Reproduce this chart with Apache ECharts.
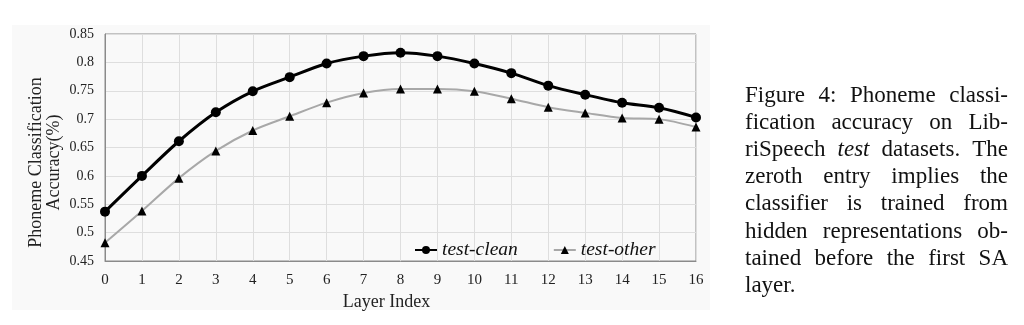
<!DOCTYPE html>
<html>
<head>
<meta charset="utf-8">
<script src="https://cdn.jsdelivr.net/npm/echarts@6/dist/echarts.min.js"></script>
<style>
html,body{margin:0;padding:0;background:#fff;}
#c{width:1024px;height:325px;}
</style>
</head>
<body>
<div id="c"></div>
<script>
var layers = [0,1,2,3,4,5,6,7,8,9,10,11,12,13,14,15,16];
var testClean = [0.537,0.600,0.661,0.712,0.749,0.774,0.798,0.811,0.817,0.811,0.798,0.781,0.759,0.743,0.729,0.720,0.703];
var testOther = [0.482,0.538,0.596,0.644,0.680,0.705,0.729,0.746,0.753,0.753,0.749,0.736,0.721,0.711,0.702,0.700,0.686];
var yTicks = [0.45,0.5,0.55,0.6,0.65,0.7,0.75,0.8,0.85];
var seriesNames = ['test-clean','test-other'];
var captionLines = [
  [['Figure'],['4:'],['Phoneme'],['classi-']],
  [['fication'],['accuracy'],['on'],['Lib-']],
  [['riSpeech'],['test','i'],['datasets.'],['The']],
  [['zeroth'],['entry'],['implies'],['the']],
  [['classifier'],['is'],['trained'],['from']],
  [['hidden'],['representations'],['ob-']],
  [['tained'],['before'],['the'],['first'],['SA']],
  [['layer.']]
];

var serif = '"Liberation Serif","Times New Roman",serif';
var chart = echarts.init(document.getElementById('c'));

function pairs(vals){ return layers.map(function(l,i){ return [l, vals[i]]; }); }

// caption layout (justified lines)
var cv = document.createElement('canvas').getContext('2d');
var capFont = 23, capLeft = 745, capRight = 1008, capTop = 96, capStep = 27.1;
var graphics = [{
  type:'rect', z:-10, silent:true,
  shape:{x:12,y:25,width:698,height:285},
  style:{fill:'#f9f9f9'}
}];
captionLines.forEach(function(words, li){
  var widths = words.map(function(w){
    cv.font = (w[1]==='i'?'italic ':'') + capFont + 'px ' + serif;
    return cv.measureText(w[0]).width;
  });
  var total = widths.reduce(function(a,b){return a+b;},0);
  var last = li === captionLines.length-1;
  cv.font = capFont + 'px ' + serif;
  var gap = (last || words.length<2) ? cv.measureText(' ').width : (capRight-capLeft-total)/(words.length-1);
  var x = capLeft;
  words.forEach(function(w, wi){
    graphics.push({
      type:'text', silent:true,
      x:x, y:capTop + li*capStep,
      style:{text:w[0], fill:'#111', fontFamily:serif, fontSize:capFont,
             fontStyle:(w[1]==='i'?'italic':'normal'), verticalAlign:'middle', align:'left'}
    });
    x += widths[wi] + gap;
  });
});

chart.setOption({
  animation:false,
  backgroundColor:'#ffffff',
  textStyle:{fontFamily:serif},
  graphic: graphics,
  grid:{left:105, top:34, right:328, bottom:64, show:true, borderColor:'#8a8a8a', borderWidth:1, backgroundColor:'transparent'},
  legend:{
    left:409, top:235, itemGap:35, itemWidth:22, itemHeight:10,
    textStyle:{fontFamily:serif, fontSize:19.5, fontStyle:'italic', color:'#111'},
    data:seriesNames
  },
  xAxis:{
    type:'value', min:0, max:16, interval:1,
    name:'Layer Index', nameLocation:'middle', nameGap:32, nameMoveOverlap:false,
    nameTextStyle:{fontFamily:serif, fontSize:18, color:'#222', padding:[0,28,0,0]},
    axisLine:{show:true, lineStyle:{color:'#8a8a8a'}},
    axisTick:{show:false},
    axisLabel:{fontFamily:serif, fontSize:15, color:'#222', margin:12},
    splitLine:{show:true, lineStyle:{color:'#dedede'}}
  },
  yAxis:{
    type:'value', min:0.45, max:0.85, interval:0.05,
    name:'Phoneme Classification\nAccuracy(%)', nameLocation:'middle', nameGap:42, nameRotate:90, nameMoveOverlap:false,
    nameTextStyle:{fontFamily:serif, fontSize:18, color:'#222', lineHeight:18, padding:[0,30,0,0]},
    axisLine:{show:true, lineStyle:{color:'#8a8a8a'}},
    axisTick:{show:false},
    axisLabel:{fontFamily:serif, fontSize:14, color:'#222', margin:11,
      formatter:function(v){ return String(+v.toFixed(2)); }},
    splitLine:{show:true, lineStyle:{color:'#dedede'}}
  },
  series:[
    {name:seriesNames[0], type:'line', data:pairs(testClean), smooth:0.3,
     symbol:'circle', symbolSize:10, z:3,
     lineStyle:{color:'#000', width:3}, itemStyle:{color:'#000'}},
    {name:seriesNames[1], type:'line', data:pairs(testOther), smooth:0.3,
     symbol:'triangle', symbolSize:9, z:2,
     lineStyle:{color:'#a8a8a8', width:2}, itemStyle:{color:'#000'}}
  ]
});
</script>
</body>
</html>
